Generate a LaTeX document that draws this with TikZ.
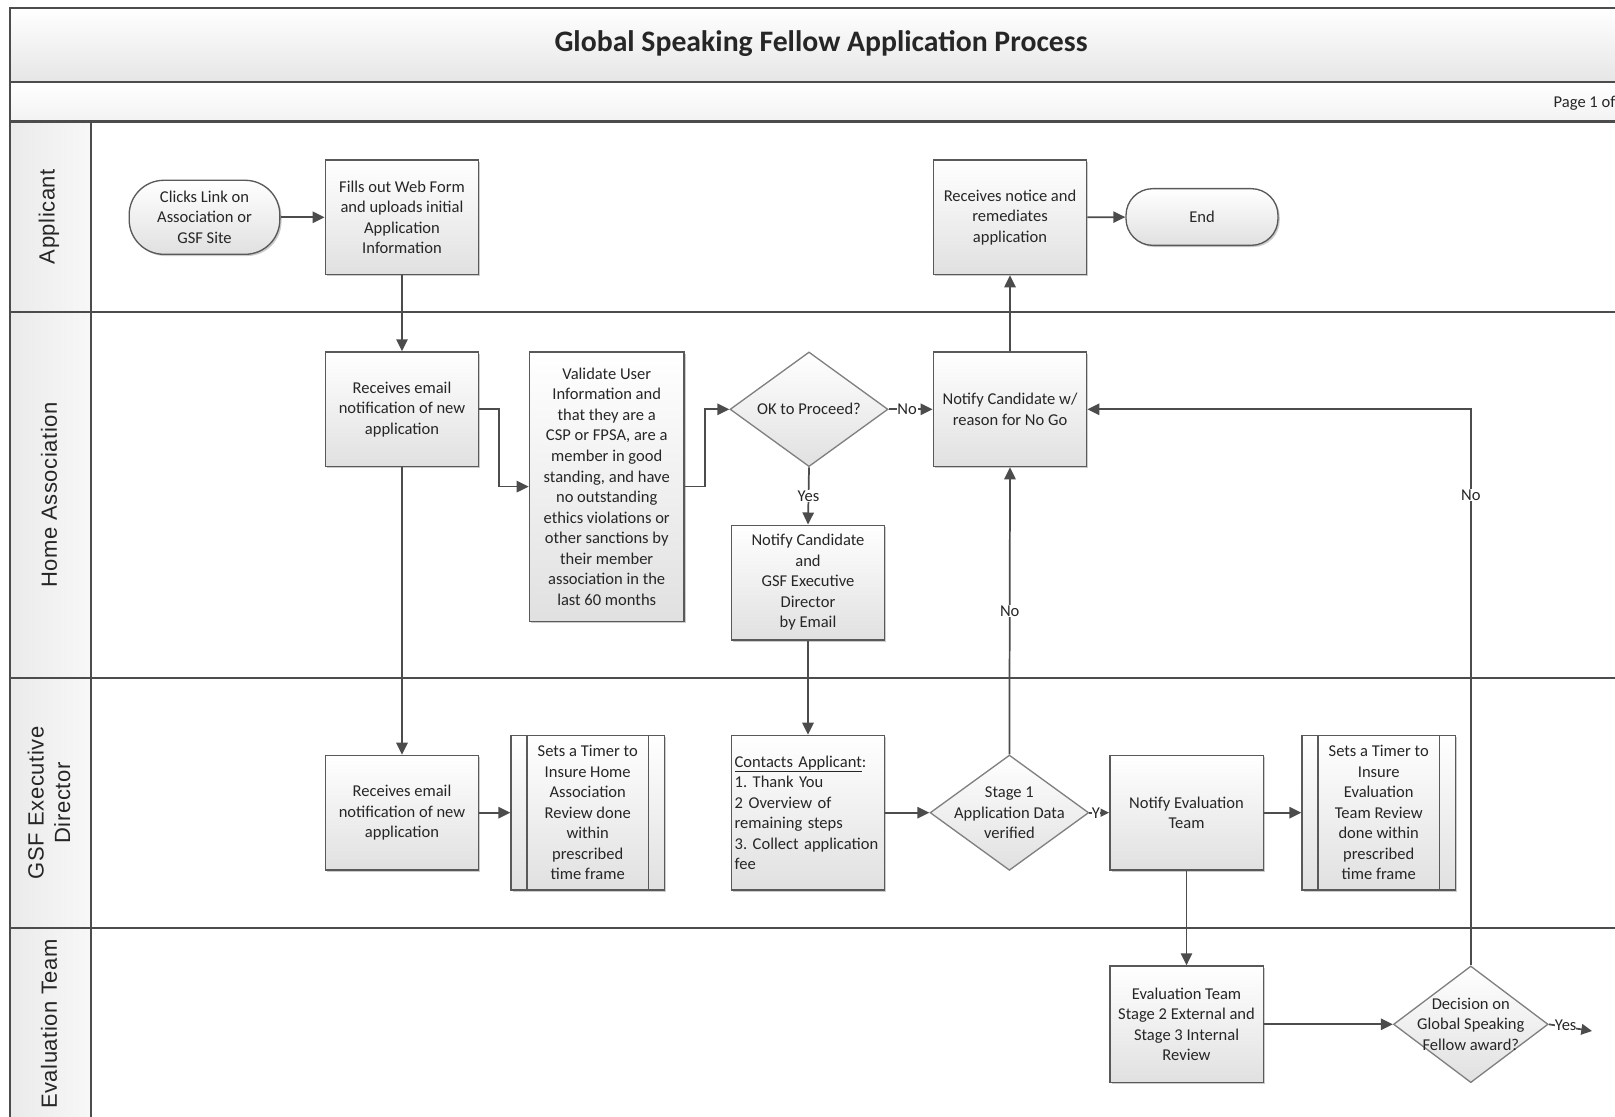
\documentclass[tikz,border=0pt]{standalone}
\usepackage{fontspec}
\setmainfont{Carlito}
\newfontfamily\lanefont[LetterSpace=2.5]{Liberation Sans}
\usetikzlibrary{shapes.geometric,arrows.meta,shadows,calc}
\frenchspacing
\begin{document}
\frenchspacing
\begin{tikzpicture}[x=0.75pt,y=-0.75pt,
  every node/.style={font=\fontsize{12.4}{15.4}\selectfont, text=black!85},
  box/.style={draw=black!65, line width=1pt, top color=white, bottom color=black!12,
    drop shadow={shadow xshift=1.3pt,shadow yshift=-1.3pt,fill=black!40,opacity=0.5},
    minimum width=115pt, minimum height=86pt, align=center, inner sep=2pt},
  tallbox/.style={box, minimum height=116pt},
  dia/.style={shape=diamond, draw=black!50, line width=1pt, top color=white, bottom color=black!12,
    minimum width=118.5pt, minimum height=86pt, inner sep=0pt},
  conn/.style={draw=black!70, line width=1.3pt, -{Triangle[length=9pt,width=8.5pt]}},
  lbl/.style={fill=white, inner sep=0.5pt},
  lanetext/.style={rotate=90, font=\lanefont\fontsize{16.5}{20}\selectfont, align=center, text=black!85},
  frameline/.style={draw=black!70, line width=1.6pt}
]
\useasboundingbox (0,0) rectangle (1615,1116);
\clip (0,0) rectangle (1615,1116);
% frame
\path[top color=white, bottom color=black!10] (10.3,8.2) rectangle (1640,82.4);
\path[top color=white, bottom color=black!5] (10.3,82.4) rectangle (1640,121.5);
\path[left color=black!8, right color=black!3] (10.3,121.5) rectangle (90.6,1140);
\draw[frameline] (1640,8.2) -- (10.3,8.2) -- (10.3,1140);
\draw[frameline] (10.3,82.4) -- (1640,82.4);
\draw[frameline] (10.3,121.5) -- (1640,121.5);
\draw[frameline] (90.6,121.5) -- (90.6,1140);
\draw[frameline] (10.3,312) -- (1640,312);
\draw[frameline] (10.3,678) -- (1640,678);
\draw[frameline] (10.3,928) -- (1640,928);
\node[font=\bfseries\fontsize{22.3}{26}\selectfont] (title) at (821,44) {Global Speaking Fellow Application Process};
\node[anchor=west] (page) at (1549,103) {Page 1 of};
% lane labels
\node[lanetext] (l1) at (49,216.7) {Applicant};
\node[lanetext] (l2) at (49,495) {Home Association};
\node[lanetext] (l3) at (49,803) {GSF Executive\\Director};
\node[lanetext] (l4) at (49,1024) {Evaluation Team};
% nodes
\node[box, minimum width=113pt, minimum height=55.5pt, rounded corners=26pt] (start) at (204.5,217.3) {Clicks Link on\\Association or\\GSF Site};
\node[box] (fills) at (402,217.3) {Fills out Web Form\\and uploads initial\\Application\\Information};
\node[box] (recnotice) at (1010,217.3) {Receives notice and\\remediates\\application};
\node[box, minimum width=114pt, minimum height=42.5pt, rounded corners=20pt] (end) at (1202,217) {End};
\node[box] (recHA) at (402,409.3) {Receives email\\notification of new\\application};
\node[box, minimum width=116pt, minimum height=202pt] (valid) at (606.7,486.6) {Validate User\\Information and\\that they are a\\CSP or FPSA, are a\\member in good\\standing, and have\\no outstanding\\ethics violations or\\other sanctions by\\their member\\association in the\\last 60 months};
\node[dia] (ok) at (809,409.3) {};
\node (okt) at (ok) {OK to Proceed?};
\node[box] (nogo) at (1010,409.3) {Notify Candidate w/\\reason for No Go};
\node[box] (notgsf) at (808,582.5) {Notify Candidate\\and\\GSF Executive\\Director\\by Email};
\node[box] (recGSF) at (402,812.7) {Receives email\\notification of new\\application};
\node[tallbox] (timer1) at (587.7,812.7) {Sets a Timer to\\Insure Home\\Association\\Review done\\within\\prescribed\\time frame};
\node[tallbox, align=left, text width=110pt, inner xsep=2.5pt] (contacts) at (808,812.7) {\frenchspacing\underline{Contacts Applicant}:\\1. Thank You\\2 Overview of\\remaining steps\\3. Collect application\\fee};
\node[dia, minimum width=119pt, minimum height=86.5pt] (stage1) at (1009.4,812.7) {};
\node[align=center] (stage1t) at (stage1) {Stage 1\\Application Data\\verified};
\node[box] (noteval) at (1186.5,812.7) {Notify Evaluation\\Team};
\node[tallbox] (timer2) at (1378.7,812.7) {Sets a Timer to\\Insure\\Evaluation\\Team Review\\done within\\prescribed\\time frame};
\node[box, minimum height=87.5pt] (evalst) at (1186.5,1024.3) {Evaluation Team\\Stage 2 External and\\Stage 3 Internal\\Review};
\node[dia, minimum width=116pt, minimum height=87.5pt] (dec) at (1470.8,1024.3) {};
\node[align=center] (dect) at (dec) {Decision on\\Global Speaking\\Fellow award?};
% predefined-process side bars
\foreach \t in {timer1,timer2}{
  \draw[black!65, line width=1pt] ($(\t.north west)+(16.5,0)$) -- ($(\t.south west)+(16.5,0)$);
  \draw[black!65, line width=1pt] ($(\t.north east)+(-16.5,0)$) -- ($(\t.south east)+(-16.5,0)$);
}
\coordinate (yesend) at (1592,1031);
% connectors
\draw[conn] (start) -- (fills);
\draw[conn] (fills) -- (recHA);
\draw[conn] (recHA.east) -- ++(19.5,0) |- (valid.west);
\draw[conn] (recHA) -- (recGSF);
\draw[conn] (valid.east) -- ++(20.5,0) |- (ok.west);
\draw[conn] (ok.east) -- node[lbl, pos=0.42]{No} (nogo.west);
\draw[conn] (ok.south) -- node[lbl]{Yes} (notgsf.north);
\draw[conn] (notgsf) -- (contacts);
\draw[conn] (nogo) -- (recnotice);
\draw[conn] (recnotice) -- (end);
\draw[conn] (recGSF) -- (timer1);
\draw[conn] (contacts) -- (stage1.west);
\draw[conn] (stage1.north) -- node[lbl]{No} (nogo.south);
\draw[conn, -{Triangle[length=6.5pt,width=6pt]}] (stage1.east) -- node[lbl, pos=0.33, inner sep=0pt]{Y} (noteval.west);
\draw[conn] (noteval) -- (timer2);
\draw[conn] (noteval) -- (evalst);
\draw[conn] (evalst) -- (dec.west);
\draw[conn] (dec.north) |- node[lbl, pos=0.423]{No} (nogo.east);
\draw[conn, -{Triangle[length=8pt,width=8pt]}] (dec.east) -- node[lbl, pos=0.12, anchor=west, inner sep=0pt]{Yes} (yesend);
\end{tikzpicture}
\end{document}
